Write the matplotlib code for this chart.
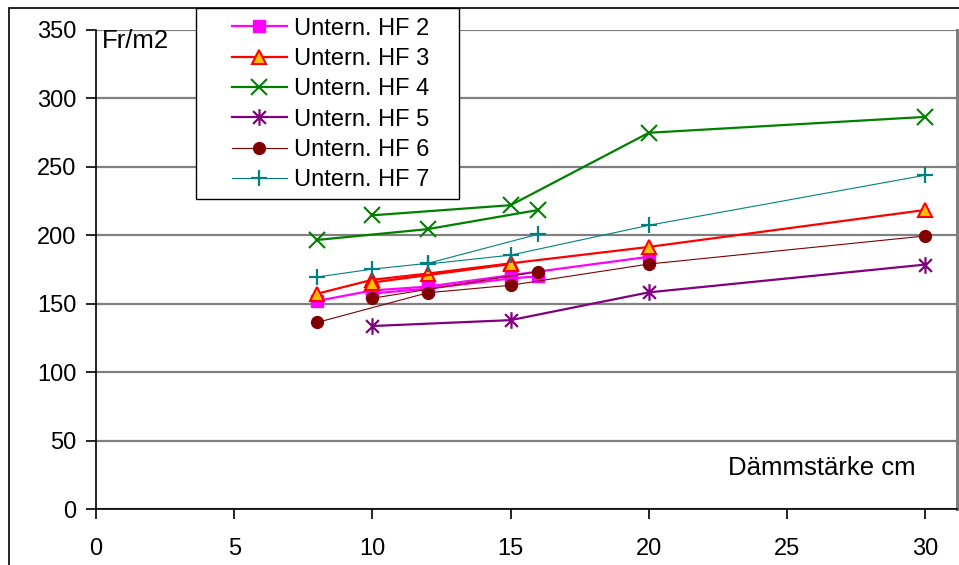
import matplotlib

matplotlib.use("Agg")
import matplotlib.pyplot as plt
import numpy as np
from matplotlib.lines import Line2D
from matplotlib.patches import Rectangle
from matplotlib.path import Path

plt.rcParams["font.family"] = ["Liberation Sans", "DejaVu Sans"]

# Price per m2 against insulation thickness; each firm offers two product lines
HF2_X_A = [8, 10, 12, 15, 20]
HF2_Y_A = [152, 159.7, 162.5, 170.8, 184.3]
HF2_X_B = [10, 12, 15, 16]
HF2_Y_B = [157.5, 161, 168.5, 170]

HF3_X_A = [8, 10, 12, 15, 20, 30]
HF3_Y_A = [157.3, 167.5, 172, 179.5, 191.5, 218.5]
HF3_X_B = [10, 15]
HF3_Y_B = [165.5, 179]

HF4_X_A = [8, 12, 16]
HF4_Y_A = [196.6, 204.5, 218.5]
HF4_X_B = [10, 15, 20, 30]
HF4_Y_B = [214.6, 222, 274.9, 286.5]

HF5_X = [10, 15, 20, 30]
HF5_Y = [133.7, 138, 158.3, 178.6]

HF6_X_A = [8, 12, 15, 20, 30]
HF6_Y_A = [136.3, 158, 163.5, 179, 199.5]
HF6_X_B = [10, 16]
HF6_Y_B = [154, 173.5]

HF7_X_A = [8, 10, 12, 16]
HF7_Y_A = [169.5, 175.3, 179.5, 200.8]
HF7_X_B = [12, 15, 20, 30]
HF7_Y_B = [179, 185.5, 207.3, 243.9]

LABELS = ["Untern. HF 2", "Untern. HF 3", "Untern. HF 4",
          "Untern. HF 5", "Untern. HF 6", "Untern. HF 7"]
X_TICKS = [0, 5, 10, 15, 20, 25, 30]
Y_TICKS = [0, 50, 100, 150, 200, 250, 300, 350]

TICK_FS = 17
LEGEND_FS = 17
TITLE_FS = 18.5

# six-armed asterisk: an X with a vertical bar through it
STAR = Path(
    [(-1, -1), (1, 1), (-1, 1), (1, -1), (0, -1.3), (0, 1.3)],
    [Path.MOVETO, Path.LINETO, Path.MOVETO, Path.LINETO, Path.MOVETO, Path.LINETO],
)

STYLES = [
    dict(color="#ff00ff", lw=1.6, marker="s", ms=8, mfc="#ff00ff", mec="#ff00ff"),
    dict(color="#ff0000", lw=1.6, marker="^", ms=10, mfc="#ffc000", mec="#ff0000", mew=1.5),
    dict(color="#008000", lw=1.6, marker="x", ms=11, mec="#008000", mew=1.5),
    dict(color="#800080", lw=1.6, marker=STAR, ms=12, mec="#800080", mew=1.6),
    dict(color="#800000", lw=0.8, marker="o", ms=8.5, mfc="#800000", mec="#800000"),
    dict(color="#008080", lw=0.8, marker="+", ms=12, mec="#008080", mew=1.6),
]

SERIES = [
    [(HF2_X_A, HF2_Y_A), (HF2_X_B, HF2_Y_B)],
    [(HF3_X_A, HF3_Y_A), (HF3_X_B, HF3_Y_B)],
    [(HF4_X_A, HF4_Y_A), (HF4_X_B, HF4_Y_B)],
    [(HF5_X, HF5_Y)],
    [(HF6_X_A, HF6_Y_A), (HF6_X_B, HF6_Y_B)],
    [(HF7_X_A, HF7_Y_A), (HF7_X_B, HF7_Y_B)],
]

W, H = 959, 565
fig = plt.figure(figsize=(W / 100, H / 100), dpi=100)
ax = fig.add_axes([96 / W, 1 - 509 / H, (957 - 96) / W, (509 - 30) / H])

for k, (parts, style) in enumerate(zip(SERIES, STYLES)):
    for xs, ys in parts:
        ax.plot(xs, ys, zorder=3 + k, clip_on=False, **style)

ax.set_xlim(0, 31.15)
ax.set_ylim(0, 350)
ax.set_xticks(X_TICKS)
ax.set_yticks(Y_TICKS)
ax.tick_params(axis="both", labelsize=TICK_FS, direction="out", length=7, width=1.2,
               color="black")
ax.tick_params(axis="x", pad=14)
ax.tick_params(axis="y", pad=7)
ax.grid(axis="y", color="#808080", lw=1.6, zorder=1)
ax.set_axisbelow(True)
ax.spines["top"].set_visible(False)
ax.spines["right"].set_color("#808080")
ax.spines["right"].set_linewidth(2.2)
for side in ("left", "bottom"):
    ax.spines[side].set_color("black")
    ax.spines[side].set_linewidth(1.2)
    ax.spines[side].set_zorder(2.5)

ax.text(0.22, 342, "Fr/m2", fontsize=TITLE_FS, va="center", ha="left")
ax.text(29.65, 30, "Dämmstärke cm", fontsize=TITLE_FS, va="center", ha="right")

# legend handles carry the same line and marker styles as the curves
handles = [Line2D([], [], **style) for style in STYLES]
leg = fig.legend(handles, LABELS, loc="upper left",
                 bbox_to_anchor=(227 / W, 1 - 13 / H), frameon=False,
                 fontsize=LEGEND_FS, handlelength=2.33, handletextpad=0.3,
                 labelspacing=0.35, borderpad=0.2, borderaxespad=0)

# chart frame and legend box
fig.patches.append(Rectangle((9 / W, -0.1), 1.2, 1 - 8 / H + 0.1,
                             transform=fig.transFigure, fill=False,
                             ec="black", lw=1.2, zorder=0))
fig.patches.append(Rectangle((196 / W, 1 - 199 / H), (459 - 196) / W, (199 - 8) / H,
                             transform=fig.transFigure, fc="white",
                             ec="black", lw=1.0, zorder=20))
leg.set_zorder(30)

fig.savefig("out.png", dpi=100)
